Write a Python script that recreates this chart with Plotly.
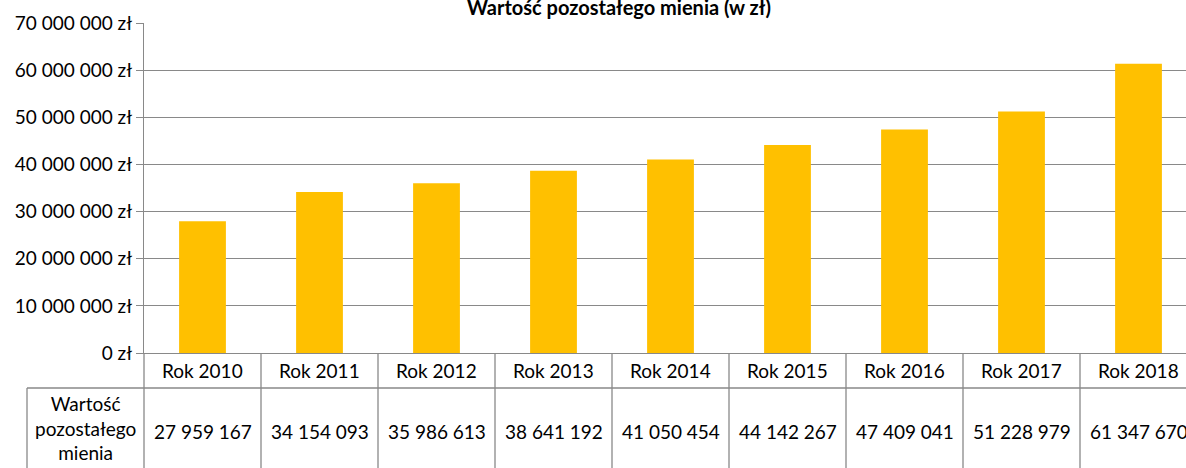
import plotly.graph_objects as go

# ---- data ----
categories = ["Rok 2010", "Rok 2011", "Rok 2012", "Rok 2013", "Rok 2014",
              "Rok 2015", "Rok 2016", "Rok 2017", "Rok 2018"]
values = [27959167, 34154093, 35986613, 38641192, 41050454,
          44142267, 47409041, 51228979, 61347670]
row_label = "Wartość<br>pozostałego<br>mienia"
title_text = "Wartość pozostałego mienia (w zł)"
y_tickvals = [0, 10000000, 20000000, 30000000, 40000000, 50000000, 60000000, 70000000]
currency = "zł"

# ---- layout geometry ----
W, H = 1186, 468
L, T, B = 144, 23, 115
plot_w = W - L
plot_h = H - T - B
cat_px = 117.0
x_lo = -0.5
x_hi = x_lo + plot_w / cat_px
GRID = "#898989"
FONT = "Lato"
FS = 19


def xp(v):  # data x -> paper x
    return (v - x_lo) / (x_hi - x_lo)


def px_x(p):  # pixel x -> paper x
    return (p - L) / plot_w


def px_y(p):  # pixel y -> paper y
    return (H - B - p) / plot_h


def fmt(v):
    return f"{v:,}".replace(",", " ")


idx = list(range(len(categories)))
fig = go.Figure(go.Bar(x=idx, y=values, width=0.4, marker_color="#FFC000",
                       marker_line_width=0, hoverinfo="skip"))

shapes = []
line = dict(color=GRID, width=1.3)
bottom = px_y(H + 5)
header_bottom = px_y(388)
label_left = px_x(27)
# vertical lines of table
for i in range(len(categories) + 1):
    shapes.append(dict(type="line", xref="paper", yref="paper",
                       x0=xp(i - 0.5), x1=xp(i - 0.5), y0=0, y1=bottom, line=line))
# header bottom line
shapes.append(dict(type="line", xref="paper", yref="paper",
                   x0=label_left, x1=1.02, y0=header_bottom, y1=header_bottom, line=line))
# label cell left border
shapes.append(dict(type="line", xref="paper", yref="paper",
                   x0=label_left, x1=label_left, y0=header_bottom, y1=bottom, line=line))

annotations = []
for i, c in enumerate(categories):
    annotations.append(dict(x=i, xref="x", y=px_y(370.5), yref="paper", text=c,
                            showarrow=False, xanchor="center", yanchor="middle",
                            font=dict(family=FONT, size=FS, color="#000")))
    annotations.append(dict(x=i, xref="x", y=px_y(432), yref="paper", text=fmt(values[i]),
                            showarrow=False, xanchor="center", yanchor="middle",
                            font=dict(family=FONT, size=FS, color="#000")))
annotations.append(dict(x=px_x(85.5), xref="paper", y=px_y(428), yref="paper", text=row_label,
                        showarrow=False, xanchor="center", yanchor="middle", align="center",
                        font=dict(family=FONT, size=FS, color="#000")))
annotations.append(dict(x=px_x(618.5), xref="paper", y=px_y(7), yref="paper",
                        text="<b>" + title_text + "</b>",
                        showarrow=False, xanchor="center", yanchor="middle",
                        font=dict(family=FONT, size=20, color="#000")))

fig.update_layout(
    width=W, height=H,
    margin=dict(l=L, r=0, t=T, b=B, pad=0),
    plot_bgcolor="white", paper_bgcolor="white",
    showlegend=False,
    shapes=shapes,
    annotations=annotations,
)
fig.update_xaxes(range=[x_lo, x_hi], showticklabels=False, showgrid=False, zeroline=False,
                 showline=True, linecolor=GRID, linewidth=1.3, ticks="")
fig.update_yaxes(range=[0, 70000000], tickvals=y_tickvals,
                 ticktext=[fmt(v) + " " + currency for v in y_tickvals],
                 showgrid=True, gridcolor=GRID, gridwidth=1.3, zeroline=False,
                 showline=True, linecolor=GRID, linewidth=1.3,
                 ticks="outside", ticklen=7, tickcolor=GRID, tickwidth=1.3,
                 tickfont=dict(family=FONT, size=FS, color="#000"))

fig.write_html("out.html", config={"displayModeBar": False},
               post_script="document.body.style.margin='0';")
